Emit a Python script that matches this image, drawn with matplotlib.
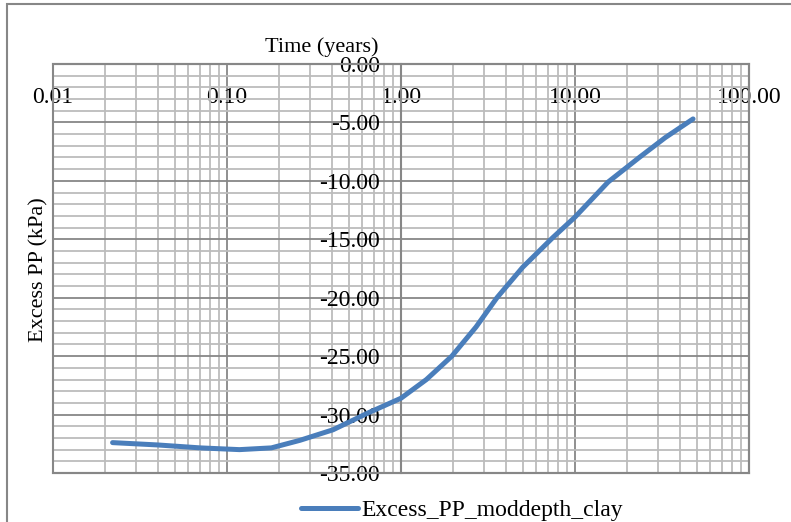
import matplotlib
matplotlib.use("Agg")
import matplotlib.pyplot as plt
from matplotlib.ticker import LogLocator, MultipleLocator, NullFormatter
from matplotlib.patches import Rectangle

# data
time_years = [0.022, 0.04, 0.07, 0.118, 0.18, 0.263, 0.407, 0.638, 1.0,
              1.4, 1.96, 2.7, 3.56, 5.0, 7.4, 10.0, 15.5, 23.4, 33.0, 47.7]
excess_pp = [-32.4, -32.6, -32.85, -33.0, -32.85, -32.2, -31.3, -29.9, -28.6,
             -27.0, -25.0, -22.5, -20.0, -17.4, -14.9, -13.1, -10.1, -8.0, -6.3, -4.7]

xtick_values = [0.01, 0.1, 1, 10, 100]
xtick_labels = ["0.01", "0.10", "1.00", "10.00", "100.00"]
ytick_values = [0, -5, -10, -15, -20, -25, -30, -35]
ytick_labels = ["0.00", "-5.00", "-10.00", "-15.00", "-20.00", "-25.00", "-30.00", "-35.00"]

plt.rcParams['font.family'] = ['Liberation Serif', 'DejaVu Serif']
plt.rcParams['font.size'] = 17

W, H = 791, 522
fig = plt.figure(figsize=(W / 100, H / 100), dpi=100)
ax = fig.add_axes([53 / W, 1 - 473 / H, (749 - 53) / W, (473 - 64) / H])

ax.set_xscale('log')
ax.set_xlim(0.01, 100)
ax.set_ylim(-35, 0)

major_col = '#878787'
minor_col = '#bcbcbc'

ax.xaxis.set_minor_locator(LogLocator(base=10, subs=[2, 3, 4, 5, 6, 7, 8, 9]))
ax.xaxis.set_minor_formatter(NullFormatter())
ax.yaxis.set_minor_locator(MultipleLocator(1))
ax.grid(which='minor', color=minor_col, lw=1.3)
ax.grid(which='major', color=major_col, lw=1.3)
ax.set_axisbelow(True)

ax.set_xticks(xtick_values)
ax.set_xticklabels(xtick_labels)
ax.set_yticks(ytick_values)
ax.set_yticklabels(ytick_labels)

# x labels sit just under the top edge, y axis crosses at x = 1
ax.xaxis.set_ticks_position('top')
ax.tick_params(axis='x', which='both', length=0, pad=-32)
ax.spines['left'].set_position(('data', 1))
ax.tick_params(axis='y', which='both', length=0, pad=15)

for name in ['top', 'right', 'bottom', 'left']:
    ax.spines[name].set_color(major_col)
    ax.spines[name].set_linewidth(1.5)
ax.add_patch(Rectangle((0, 0), 1, 1, transform=ax.transAxes, fill=False,
                       ec=major_col, lw=1.5, zorder=5, clip_on=False))

ax.plot(time_years, excess_pp, color='#4a7ebb', lw=3.6,
        solid_capstyle='round', solid_joinstyle='round',
        label='Excess_PP_moddepth_clay', zorder=6)

fig.text(322 / W, 1 - 47 / H, 'Time (years)', ha='center', va='center', fontsize=16)
fig.text(39 / W, 1 - 270 / H, 'Excess PP (kPa)', ha='center', va='center',
         rotation=90, fontsize=16)

fig.legend(loc='center', bbox_to_anchor=(462 / W, 1 - 510 / H), frameon=False,
           handlelength=2.4, handletextpad=0.15, borderpad=0)

# outer chart border (cut off on right and bottom)
fig.add_artist(Rectangle((7 / W, -0.05), 1.0, 1 - 4 / H + 0.05,
                         transform=fig.transFigure, fill=False, ec=major_col, lw=1.5))

fig.savefig('out.png', dpi=100)
